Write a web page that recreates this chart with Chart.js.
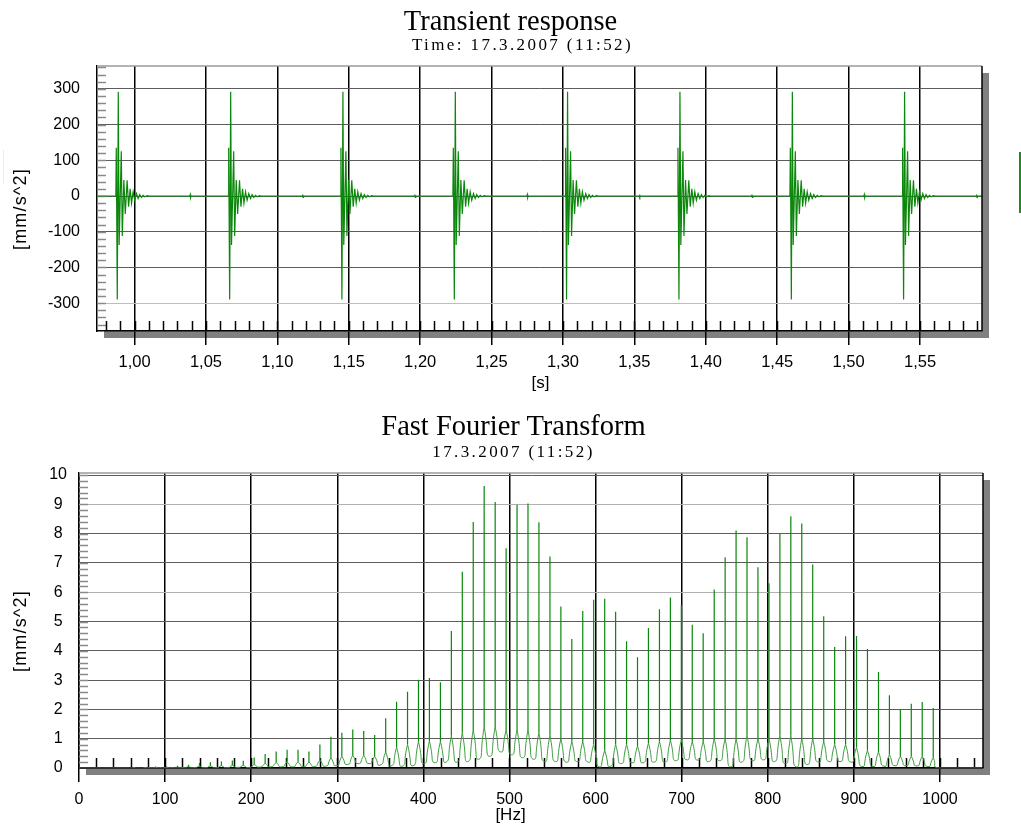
<!DOCTYPE html>
<html>
<head>
<meta charset="utf-8">
<script src="https://cdn.jsdelivr.net/npm/chart.js@4.4.1/dist/chart.umd.min.js"></script>
<style>
  body { margin: 0; background: #fff; width: 1021px; height: 832px; overflow: hidden; position: relative; }
  canvas { position: absolute; left: 0; }
  .txt { position: absolute; width: 1021px; text-align: center; white-space: nowrap; color: #000; }
  .title { font: 28.5px/28px "Liberation Serif", serif; }
  .sub { font: 17px/17px "Liberation Serif", serif; letter-spacing: 2.4px; }
  .axis { font: 17px/17px "Liberation Sans", Arial, sans-serif; }
  .ylab { position: absolute; width: 120px; height: 20px; text-align: center; white-space: nowrap;
          font: 18px/20px "Liberation Sans", Arial, sans-serif; letter-spacing: 1.2px; transform: rotate(-90deg); }
  .mark { position: absolute; }
</style>
</head>
<body>
<canvas id="transient" width="1021" height="400" style="top:0"></canvas>
<canvas id="fft" width="1021" height="432" style="top:400px"></canvas>

<div class="txt title" style="left:0;top:7px">Transient response</div>
<div class="txt sub" style="left:12px;top:36px">Time: 17.3.2007 (11:52)</div>
<div class="ylab" style="left:-40px;top:199px">[mm/s^2]</div>
<div class="txt axis" style="left:30px;top:374px">[s]</div>

<div class="txt title" style="left:3px;top:412px">Fast Fourier Transform</div>
<div class="txt sub" style="left:3px;top:443px">17.3.2007 (11:52)</div>
<div class="ylab" style="left:-40px;top:621px">[mm/s^2]</div>
<div class="txt axis" style="left:0;top:806px">[Hz]</div>

<div class="mark" style="left:1019px;top:152px;width:1.5px;height:61px;background:#1f8a1f"></div>
<div class="mark" style="left:3px;top:150px;width:1px;height:34px;background:#e3f0e3"></div>

<script>
// ---- transient response (top) ----
const timeTicks = [1.00, 1.05, 1.10, 1.15, 1.20, 1.25, 1.30, 1.35, 1.40, 1.45, 1.50, 1.55];
const accelTicks = [-300, -200, -100, 0, 100, 200, 300];
const timeRange = [0.9737, 1.5934];
const accelRange = [-378, 364];
// start of each hammer impact [s]
const burstStart = [0.9872, 1.0659, 1.1445, 1.2232, 1.3018, 1.3805, 1.4592, 1.5378];
// shape of one impact, time after start [ms] and acceleration [mm/s^2]
const burstTimeMs = [-0.3, 0, 0.7, 1.4, 2.0, 3.5, 4.2, 5.3, 6.3, 7.6, 8.6, 9.7, 10.7, 11.8, 12.9,
  14.1, 15.3, 16.4, 17.6, 18.8, 20.0, 21.5, 23.0, 51.5, 51.8, 52.1, 52.4];
const burstAccel = [0, 135, -290, 292, -137, 125, -112, 45, -50, 44, -30, 20, -20, 12, -12,
  7, -7, 4, -4, 2, -2, 1, 0, 0, 4, -4, 0];

// ---- FFT (bottom) ----
const hzTicks = [0, 100, 200, 300, 400, 500, 600, 700, 800, 900, 1000];
const ampTicks = [0, 1, 2, 3, 4, 5, 6, 7, 8, 9, 10];
const hzRange = [0, 1050];
const ampRange = [0, 10.07];
const peakHz = [63.6, 76.3, 89.0, 101.8, 114.5, 127.2, 139.9, 152.6, 165.4, 178.1,
  190.8, 203.5, 216.2, 229.0, 241.7, 254.4, 267.1, 279.8, 292.6, 305.3,
  318.0, 330.7, 343.4, 356.2, 368.9, 381.6, 394.3, 407.0, 419.8, 432.5,
  445.2, 457.9, 470.6, 483.4, 496.1, 508.8, 521.5, 534.2, 547.0, 559.7,
  572.4, 585.1, 597.8, 610.6, 623.3, 636.0, 648.7, 661.4, 674.2, 686.9,
  699.6, 712.3, 725.0, 737.8, 750.5, 763.2, 775.9, 788.6, 801.4, 814.1,
  826.8, 839.5, 852.2, 865.0, 877.7, 890.4, 903.1, 915.8, 928.6, 941.3,
  954.0, 966.7, 979.4, 992.2];
const peakAmp = [0.03, 0.03, 0.05, 0.05, 0.08, 0.11, 0.17, 0.2, 0.22, 0.26,
  0.25, 0.36, 0.48, 0.56, 0.62, 0.62, 0.56, 0.8, 1.07, 1.2,
  1.31, 1.26, 1.13, 1.70, 2.26, 2.60, 3.01, 3.07, 2.93, 4.68,
  6.70, 8.40, 9.63, 9.08, 7.50, 8.99, 9.03, 8.39, 7.22, 5.51,
  4.40, 5.36, 5.74, 5.78, 5.33, 4.33, 3.78, 4.78, 5.42, 5.82,
  5.57, 4.89, 4.60, 6.09, 7.19, 8.11, 7.88, 6.85, 6.31, 7.99,
  8.59, 8.35, 6.95, 5.18, 4.13, 4.50, 4.51, 4.06, 3.28, 2.48,
  2.01, 2.19, 2.25, 2.05];
// height where the curved skirt of each peak meets its spike
const shoulderAmp = [0.01, 0.01, 0.02, 0.02, 0.03, 0.04, 0.06, 0.07, 0.08, 0.09,
  0.09, 0.12, 0.16, 0.19, 0.21, 0.21, 0.2, 0.27, 0.35, 0.4,
  0.44, 0.43, 0.4, 0.55, 0.7, 0.8, 0.9, 0.92, 0.9, 1.1,
  1.2, 1.3, 1.4, 1.4, 1.3, 1.3, 1.3, 1.2, 1.1, 1.0,
  0.9, 0.9, 0.8, 0.6, 0.8, 0.8, 0.75, 0.85, 0.9, 0.95,
  0.95, 0.9, 0.9, 1.0, 1.0, 1.0, 1.1, 1.0, 1.0, 1.1,
  1.1, 1.0, 1.0, 0.9, 0.8, 0.8, 0.7, 0.6, 0.55, 0.45,
  0.4, 0.4, 0.4, 0.35];
// floor of the spectrum before the first peak and after every peak
const valleyAmp = [0, 0, 0.01, 0.01, 0.01, 0.01, 0.01, 0.01, 0.01, 0.01,
  0.02, 0.02, 0.03, 0.04, 0.04, 0.04, 0.05, 0.05, 0.06, 0.08,
  0.12, 0.15, 0.15, 0.10, 0.07, 0.06, 0.08, 0.15, 0.18, 0.2,
  0.2, 0.22, 0.3, 0.4, 0.55, 0.45, 0.35, 0.3, 0.22, 0.22,
  0.2, 0.22, 0.2, 0.04, 0.05, 0.15, 0.18, 0.18, 0.2, 0.2,
  0.25, 0.28, 0.27, 0.22, 0.25, 0.04, 0.2, 0.25, 0.28, 0.22,
  0.15, 0.04, 0.12, 0.2, 0.22, 0.22, 0.2, 0.05, 0.05, 0.06,
  0.08, 0.08, 0.07, 0.05, 0];

// build the point lists for the line datasets
const transientPoints = [{ x: timeRange[0], y: 0 }];
burstStart.forEach(t0 => {
  burstTimeMs.forEach((ms, k) => transientPoints.push({ x: t0 + ms / 1000, y: burstAccel[k] }));
});
transientPoints.push({ x: timeRange[1], y: 0 });

// spikes: straight stems; skirts: curved arcs between neighbouring stems
const halfGap = (peakHz[1] - peakHz[0]) / 2;
const spikePoints = [];
const skirtPoints = [{ x: hzRange[0], y: 0 }, { x: peakHz[0] - halfGap, y: valleyAmp[0] }];
peakHz.forEach((f, i) => {
  spikePoints.push({ x: f, y: shoulderAmp[i] }, { x: f, y: peakAmp[i] }, { x: f, y: null });
  const next = i + 1 < peakHz.length ? (f + peakHz[i + 1]) / 2 : f + halfGap;
  skirtPoints.push({ x: f, y: shoulderAmp[i] }, { x: f, y: null },
    { x: f, y: shoulderAmp[i] }, { x: next, y: valleyAmp[i + 1] });
});
skirtPoints.push({ x: hzRange[1], y: 0 });

// minor tick positions
const range = (from, to, step) => {
  const out = [];
  for (let v = from; v <= to + step / 1000; v += step) out.push(+v.toFixed(4));
  return out;
};

Chart.defaults.font.family = '"Liberation Sans", Arial, sans-serif';
Chart.defaults.color = '#000';

// grey drop shadow, white plot, minor ticks and the top/right frame
const plotFrame = {
  id: 'plotFrame',
  beforeDraw(chart) {
    const { ctx, chartArea: a } = chart;
    ctx.save();
    ctx.fillStyle = '#808080';
    ctx.fillRect(a.left + 7, a.top + 7, a.width, a.height);
    ctx.fillStyle = '#fff';
    ctx.fillRect(a.left, a.top, a.width, a.height);
    ctx.restore();
  },
  beforeDatasetsDraw(chart, args, opts) {
    const { ctx, chartArea: a, scales } = chart;
    ctx.save();
    ctx.beginPath();
    ctx.strokeStyle = '#8a8a8a';
    ctx.lineWidth = 1.5;
    opts.yMinor.forEach(v => {
      const py = Math.round(scales.y.getPixelForValue(v)) + 0.5;
      ctx.moveTo(a.left, py);
      ctx.lineTo(a.left + 9, py);
    });
    ctx.stroke();
    ctx.beginPath();
    ctx.strokeStyle = '#000';
    opts.xMinor.forEach(v => {
      const px = Math.round(scales.x.getPixelForValue(v)) + 0.5;
      ctx.moveTo(px, a.bottom);
      ctx.lineTo(px, a.bottom - 10);
    });
    ctx.stroke();
    ctx.restore();
  },
  afterDraw(chart) {
    const { ctx, chartArea: a } = chart;
    ctx.save();
    ctx.lineWidth = 1.5;
    ctx.strokeStyle = '#9a9a9a';
    ctx.beginPath();
    ctx.moveTo(a.left, a.top);
    ctx.lineTo(a.right, a.top);
    ctx.stroke();
    ctx.strokeStyle = '#000';
    ctx.beginPath();
    ctx.moveTo(a.right, a.top);
    ctx.lineTo(a.right, a.bottom);
    ctx.stroke();
    ctx.restore();
  }
};

const greenLine = (data, extra) => Object.assign({
  data,
  borderColor: '#0b870b',
  borderWidth: 1.2,
  pointRadius: 0,
  tension: 0,
  spanGaps: false,
  fill: false
}, extra);

function makeChart(id, datasets, cfg) {
  return new Chart(document.getElementById(id), {
    type: 'line',
    data: { datasets },
    options: {
      responsive: false,
      animation: false,
      events: [],
      layout: { padding: cfg.padding },
      plugins: {
        legend: { display: false },
        tooltip: { enabled: false },
        plotFrame: { xMinor: cfg.xMinor, yMinor: cfg.yMinor }
      },
      scales: {
        x: {
          type: 'linear',
          min: cfg.xRange[0],
          max: cfg.xRange[1],
          afterBuildTicks: s => { s.ticks = cfg.xTicks.map(value => ({ value })); },
          afterFit: s => { s.height = 60; },
          grid: { color: '#000', lineWidth: 1.5, tickLength: 14 },
          border: { color: '#000', width: 1.5 },
          ticks: {
            autoSkip: false,
            maxRotation: 0,
            padding: 8,
            font: { size: cfg.xFont },
            callback: cfg.xLabel
          }
        },
        y: {
          min: cfg.yRange[0],
          max: cfg.yRange[1],
          afterBuildTicks: s => { s.ticks = cfg.yTicks.map(value => ({ value })); },
          afterFit: s => { s.width = cfg.yWidth; },
          grid: { color: cfg.yGridColor, lineWidth: 1, drawTicks: false },
          border: { color: '#000', width: 1.5 },
          ticks: {
            padding: cfg.yPad,
            crossAlign: cfg.yAlign,
            font: { size: 16 },
            callback: v => String(v)
          }
        }
      }
    },
    plugins: [plotFrame]
  });
}

makeChart('transient', [greenLine(transientPoints)], {
  padding: { left: 0, top: 66, right: 39, bottom: 9 },
  xRange: timeRange, yRange: accelRange,
  xTicks: timeTicks, yTicks: accelTicks,
  xMinor: range(0.98, 1.59, 0.01), yMinor: range(-360, 360, 20),
  xFont: 16.5,
  xLabel: v => v.toFixed(2).replace('.', ','),
  yWidth: 97, yPad: 17, yAlign: 'near',
  yGridColor: c => (c.tick && c.tick.value === -300 ? '#bdbdbd' : '#5c5c5c')
});

makeChart('fft', [
  greenLine(skirtPoints, { borderColor: '#3c9c3c', borderWidth: 1, tension: 0.8 }),
  greenLine(spikePoints)
], {
  padding: { left: 0, top: 73, right: 38, bottom: 4 },
  xRange: hzRange, yRange: ampRange,
  xTicks: hzTicks, yTicks: ampTicks,
  xMinor: range(20, 1040, 20), yMinor: range(0.2, 10, 0.2),
  xFont: 16,
  xLabel: v => String(v),
  yWidth: 79, yPad: 12, yAlign: 'center',
  yGridColor: c => (c.tick && (c.tick.value === 6 || c.tick.value === 9) ? '#b0b0b0' : '#5c5c5c')
});
</script>
</body>
</html>
